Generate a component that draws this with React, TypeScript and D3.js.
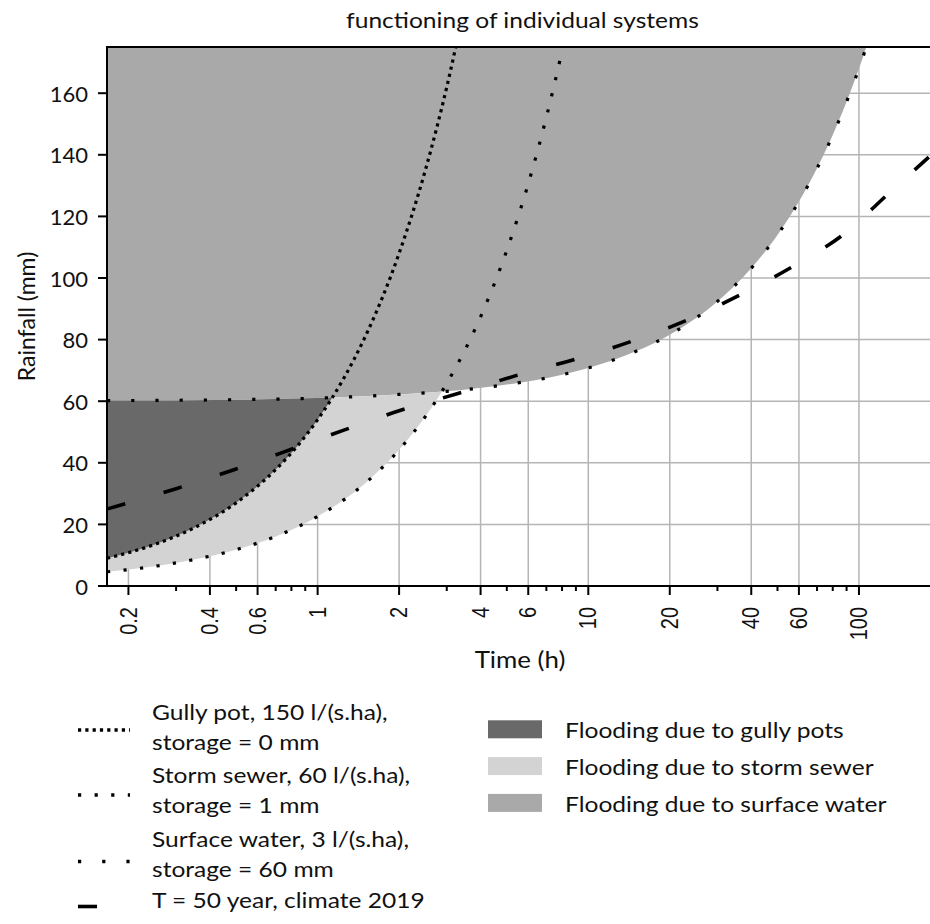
import React from "react";
import * as d3 from "d3";

// ---------- data ----------
const xMajorTicks = [0.2, 0.4, 0.6, 1, 2, 4, 6, 10, 20, 40, 60, 100];
const xTickLabels = ["0.2", "0.4", "0.6", "1", "2", "4", "6", "10", "20", "40", "60", "100"];
const xMinorTicks = [0.3, 0.5, 0.7, 0.8, 0.9, 3, 5, 7, 8, 9, 30, 50, 70, 80, 90];
const yTicks = [0, 20, 40, 60, 80, 100, 120, 140, 160];

// Gully pot, 150 l/(s.ha), storage = 0 mm
const gullyT = [1 / 6, 0.25, 0.35, 0.5, 0.7, 0.85, 1, 1.25, 1.5, 2, 2.5, 3, 3.5];
const gullyV = [9, 13.5, 18.9, 27, 37.8, 45.9, 54, 67.5, 81, 108, 135, 162, 189];

// Storm sewer, 60 l/(s.ha), storage = 1 mm
const stormT = [1 / 6, 0.25, 0.35, 0.5, 0.7, 1, 1.5, 2, 2.5, 3, 4, 5, 6, 7, 8, 9];
const stormV = [4.6, 6.4, 8.6, 11.8, 16.1, 22.6, 33.4, 44.2, 55, 65.8, 87.4, 109, 130.6, 152.2, 173.8, 195.4];

// Surface water, 3 l/(s.ha), storage = 60 mm
const surfT = [1 / 6, 0.5, 1, 2, 3, 5, 8, 10, 15, 20, 30, 40, 50, 60, 70, 80, 90, 100, 110];
const surfV = [60.2, 60.5, 61, 62.2, 63.2, 65.4, 68.6, 70.8, 76.2, 81.6, 92.4, 103.2, 114, 124.8, 135.6, 146.4, 157.2, 168, 178.8];

// T = 50 year, climate 2019
const t50T = [1 / 6, 0.3, 0.5, 0.8, 1.25, 2, 3.3, 5.4, 9, 14.4, 23.3, 36.7, 57.6, 88.4, 128.6, 183];
const t50V = [25, 31.6, 38, 44.4, 50.6, 56.9, 62.5, 68.3, 73.7, 79.4, 86.4, 94.7, 104, 114.4, 127.4, 139.6];

const lineLegend = [
  { lines: ["Gully pot, 150 l/(s.ha),", "storage = 0 mm"], dash: "3.2 4.1" },
  { lines: ["Storm sewer, 60 l/(s.ha),", "storage = 1 mm"], dash: "3.2 13.4" },
  { lines: ["Surface water, 3 l/(s.ha),", "storage = 60 mm"], dash: "3.2 21" },
  { lines: ["T = 50 year, climate 2019"], dash: "19 40" },
];
const areaLegend = ["Flooding due to gully pots", "Flooding due to storm sewer", "Flooding due to surface water"];

// ---------- styles ----------
const W = 930, H = 924;
const L = 107, R = 930, T = 47, B = 586;
const C_DARK = "#696969", C_LIGHT = "#d3d3d3", C_MED = "#a9a9a9";
const FONT = "Lato, 'Open Sans', sans-serif";

function SText(props: {
  x: number; y: number; sx: number; size: number; anchor?: string; children: React.ReactNode;
}) {
  return (
    <text
      transform={`translate(${props.x},${props.y}) scale(${props.sx},1)`}
      textAnchor={props.anchor || "start"}
      fontFamily={FONT}
      fontSize={props.size}
      fill="#111"
    >
      {props.children}
    </text>
  );
}

export default function App() {
  const x = d3.scaleLog().domain([1 / 6, 183]).range([L, R]);
  const y = d3.scaleLinear().domain([0, 175]).range([B, T]);
  const curve = d3.curveMonotoneX;

  const zip = (ts: number[], vs: number[]) => ts.map((t, i) => [t, vs[i]] as [number, number]);
  const gully = zip(gullyT, gullyV);
  const storm = zip(stormT, stormV);
  const surf = zip(surfT, surfV);
  const t50 = zip(t50T, t50V);

  const line = d3.line<[number, number]>().x(d => x(d[0])).y(d => y(d[1])).curve(curve);
  const areaToTop = d3.area<[number, number]>().x(d => x(d[0])).y0(d => y(d[1])).y1(T).curve(curve);
  const areaToBottom = d3.area<[number, number]>().x(d => x(d[0])).y0(B).y1(d => y(d[1])).curve(curve);

  const lineStyles = [
    { data: gully, dash: lineLegend[0].dash, w: 3.2 },
    { data: storm, dash: lineLegend[1].dash, w: 3.2 },
    { data: surf, dash: lineLegend[2].dash, w: 3.2 },
  ];

  return (
    <svg width={W} height={H} style={{ position: "absolute", left: 0, top: 0, background: "#fff" }}>
      <defs>
        <clipPath id="plot">
          <rect x={L} y={T} width={R - L + 5} height={B - T} />
        </clipPath>
        <clipPath id="below">
          <path d={areaToBottom(surf) || ""} />
        </clipPath>
      </defs>

      {/* title */}
      <SText x={522.5} y={28} sx={1.17} size={21} anchor="middle">
        functioning of individual systems
      </SText>

      {/* grid */}
      <g stroke="#b5b5b5" strokeWidth={1.5}>
        {xMajorTicks.map(t => (
          <line key={"gx" + t} x1={x(t)} x2={x(t)} y1={T} y2={B} />
        ))}
        {yTicks.map(v => (
          <line key={"gy" + v} x1={L} x2={R} y1={y(v)} y2={y(v)} />
        ))}
      </g>

      {/* fills */}
      <g clipPath="url(#plot)">
        <path d={areaToTop(surf) || ""} fill={C_MED} />
        <g clipPath="url(#below)">
          <path d={areaToTop(storm) || ""} fill={C_LIGHT} />
          <path d={areaToTop(gully) || ""} fill={C_DARK} />
        </g>
      </g>

      {/* lines */}
      <g clipPath="url(#plot)" fill="none" stroke="#000">
        {lineStyles.map((s, i) => (
          <path key={i} d={line(s.data) || ""} strokeWidth={s.w} strokeDasharray={s.dash} />
        ))}
        <path d={line(t50) || ""} strokeWidth={3.6} strokeDasharray={lineLegend[3].dash} />
      </g>

      {/* axes */}
      <g stroke="#000" strokeWidth={2}>
        <line x1={L} x2={L} y1={T} y2={B + 1} />
        <line x1={L - 1} x2={R} y1={B} y2={B} />
        <line x1={L - 1} x2={R} y1={T} y2={T} />
        {xMajorTicks.map(t => (
          <line key={"tx" + t} x1={x(t)} x2={x(t)} y1={B} y2={B + 9} />
        ))}
        {xMinorTicks.map(t => (
          <line key={"mx" + t} x1={x(t)} x2={x(t)} y1={B} y2={B + 5} />
        ))}
        {yTicks.map(v => (
          <line key={"ty" + v} x1={L - 9} x2={L} y1={y(v)} y2={y(v)} />
        ))}
      </g>

      {/* tick labels */}
      <g fontFamily={FONT} fontSize={22} fill="#111">
        {yTicks.map(v => (
          <text key={"ly" + v} x={88} y={y(v)} textAnchor="end" dominantBaseline="central">
            {v}
          </text>
        ))}
      </g>
      <g fontFamily="'Liberation Sans', Arial, sans-serif" fontSize={20} fill="#111">
        {xMajorTicks.map((t, i) => (
          <text
            key={"lx" + t}
            transform={`translate(${x(t)},607) rotate(-90) scale(1,1.2)`}
            textAnchor="end"
            dominantBaseline="central"
          >
            {xTickLabels[i]}
          </text>
        ))}
      </g>

      {/* axis titles */}
      <SText x={520} y={668} sx={1.15} size={22.5} anchor="middle">
        Time (h)
      </SText>
      <text
        transform={`translate(35,${(T + B) / 2}) rotate(-90)`}
        textAnchor="middle"
        fontFamily={FONT}
        fontSize={23}
        fill="#111"
      >
        Rainfall (mm)
      </text>

      {/* line legend */}
      <g>
        {lineLegend.map((item, i) => {
          const baseY = [720, 783.3, 846.7, 908.3][i];
          const handleY = [730, 795, 861.5, 906.5][i];
          return (
            <g key={"ll" + i}>
              <line
                x1={78}
                x2={i === 3 ? 97 : 130}
                y1={handleY}
                y2={handleY}
                stroke="#000"
                strokeWidth={i === 3 ? 3.6 : 3.4}
                strokeDasharray={i === 3 ? undefined : item.dash}
              />
              {item.lines.map((s, j) => (
                <SText key={j} x={152} y={baseY + j * 30} sx={1.17} size={21}>
                  {s}
                </SText>
              ))}
            </g>
          );
        })}
      </g>

      {/* area legend */}
      <g>
        {areaLegend.map((s, i) => {
          const baseY = 738.3 + i * 36.8;
          return (
            <g key={"al" + i}>
              <rect x={488} y={baseY - 18} width={54} height={18} fill={[C_DARK, C_LIGHT, C_MED][i]} />
              <SText x={565} y={baseY} sx={1.17} size={21}>
                {s}
              </SText>
            </g>
          );
        })}
      </g>
    </svg>
  );
}
